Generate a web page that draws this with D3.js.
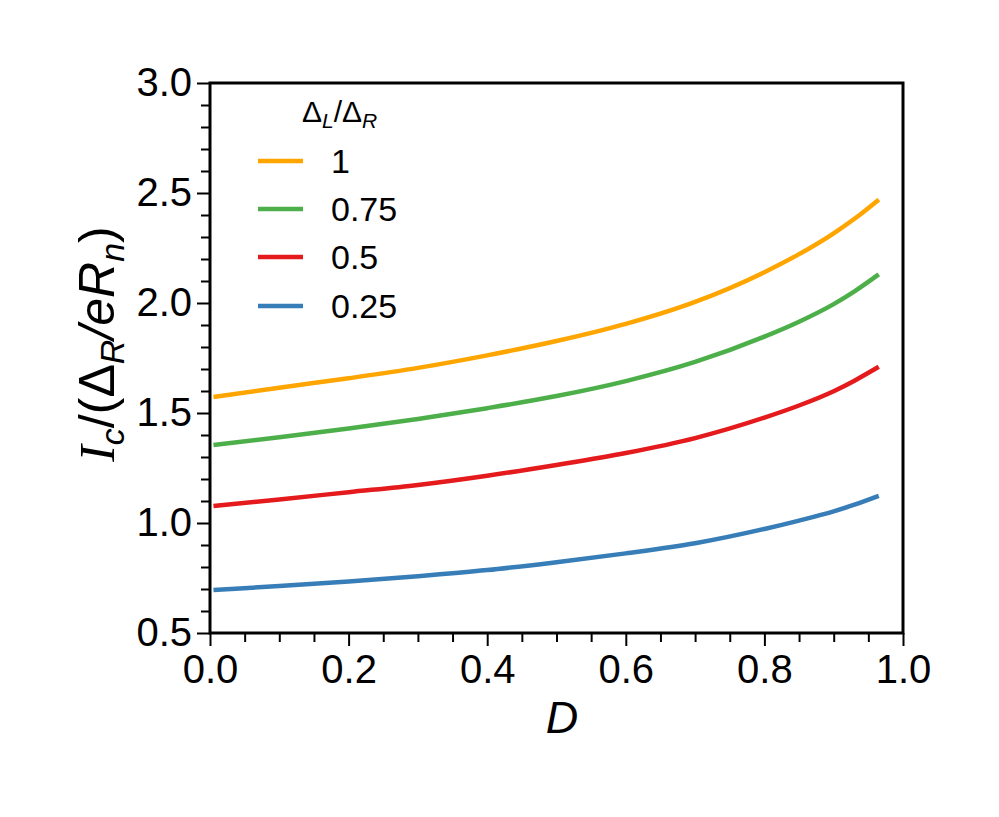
<!DOCTYPE html>
<html>
<head>
<meta charset="utf-8">
<script src="https://cdn.jsdelivr.net/npm/d3@7"></script>
<style>
  html, body { margin: 0; padding: 0; background: #fff; }
  svg text { font-family: "Liberation Sans", Arial, Helvetica, sans-serif; fill: #000; }
</style>
</head>
<body>
<svg id="chart" width="999" height="817"></svg>
<script>
// ---- data ----
const dValues = [0.005, 0.1, 0.2, 0.3, 0.4, 0.5, 0.6, 0.7, 0.8, 0.85, 0.9, 0.93, 0.965];
const ratio1    = [1.573, 1.615, 1.658, 1.705, 1.762, 1.827, 1.905, 2.005, 2.140, 2.222, 2.317, 2.383, 2.470];
const ratio075  = [1.355, 1.390, 1.430, 1.473, 1.522, 1.577, 1.645, 1.732, 1.847, 1.915, 1.995, 2.053, 2.130];
const ratio05   = [1.077, 1.107, 1.140, 1.173, 1.215, 1.264, 1.318, 1.386, 1.479, 1.534, 1.599, 1.647, 1.710];
const ratio025  = [0.695, 0.714, 0.734, 0.758, 0.786, 0.822, 0.862, 0.908, 0.973, 1.011, 1.053, 1.083, 1.123];
const seriesLabels = ["1", "0.75", "0.5", "0.25"];
const seriesColors = ["#ffa500", "#4daf4a", "#e41a1c", "#377eb8"];
const xMajorTicks = [0, 0.2, 0.4, 0.6, 0.8, 1.0];
const yMajorTicks = [0.5, 1.0, 1.5, 2.0, 2.5, 3.0];

const series = [ratio1, ratio075, ratio05, ratio025];

// ---- layout ----
const pL = 210, pR = 903, pT = 83, pB = 633;
const svg = d3.select("#chart");

const x = d3.scaleLinear().domain([0, 1]).range([pL, pR]);
const y = d3.scaleLinear().domain([0.5, 3.0]).range([pB, pT]);

// minor ticks
const xMinor = d3.range(0, 1.0001, 0.05).filter(v => !xMajorTicks.some(t => Math.abs(t - v) < 1e-6));
const yMinor = d3.range(0.5, 3.0001, 0.1).filter(v => !yMajorTicks.some(t => Math.abs(t - v) < 1e-6));

const gxMinor = svg.append("g").attr("transform", `translate(0,${pB})`)
  .call(d3.axisBottom(x).tickValues(xMinor).tickSize(9).tickFormat(""));
const gyMinor = svg.append("g").attr("transform", `translate(${pL},0)`)
  .call(d3.axisLeft(y).tickValues(yMinor).tickSize(9).tickFormat(""));

const gx = svg.append("g").attr("transform", `translate(0,${pB})`)
  .call(d3.axisBottom(x).tickValues(xMajorTicks).tickSize(13).tickPadding(7).tickFormat(d3.format(".1f")));
const gy = svg.append("g").attr("transform", `translate(${pL},0)`)
  .call(d3.axisLeft(y).tickValues(yMajorTicks).tickSize(13).tickPadding(5).tickFormat(d3.format(".1f")));

[gxMinor, gyMinor, gx, gy].forEach(g => {
  g.select(".domain").remove();
  g.selectAll(".tick line").attr("stroke", "#000").attr("stroke-width", 2);
});
[gx, gy].forEach(g => g.selectAll(".tick text")
  .style("font-family", "'Liberation Sans', Arial, sans-serif")
  .style("font-size", "40px").attr("fill", "#000"));
gx.selectAll(".tick text").attr("dy", "0.76em");

// curves
const line = d3.line()
  .x((d, i) => x(dValues[i]))
  .y(d => y(d))
  .curve(d3.curveMonotoneX);

series.forEach((s, k) => {
  svg.append("path")
    .datum(s)
    .attr("d", line)
    .attr("fill", "none")
    .attr("stroke", seriesColors[k])
    .attr("stroke-width", 4.5);
});

// frame
svg.append("rect")
  .attr("x", pL).attr("y", pT)
  .attr("width", pR - pL).attr("height", pB - pT)
  .attr("fill", "none").attr("stroke", "#000").attr("stroke-width", 3);

// legend
const legTitle = svg.append("text").attr("x", 302).attr("y", 122).style("font-size", "30px");
legTitle.append("tspan").text("Δ");
legTitle.append("tspan").attr("font-style", "italic").attr("font-size", "21px").attr("dy", 6).text("L");
legTitle.append("tspan").attr("dy", -6).text("/Δ");
legTitle.append("tspan").attr("font-style", "italic").attr("font-size", "21px").attr("dy", 6).text("R");

const legY = [161, 209, 257, 306];
seriesLabels.forEach((lab, k) => {
  svg.append("line")
    .attr("x1", 258).attr("x2", 303)
    .attr("y1", legY[k]).attr("y2", legY[k])
    .attr("stroke", seriesColors[k]).attr("stroke-width", 4.5);
  svg.append("text")
    .attr("x", 331).attr("y", legY[k] + 12)
    .style("font-size", "34px")
    .text(lab);
});

// axis titles
svg.append("text")
  .attr("x", 562).attr("y", 733)
  .attr("text-anchor", "middle")
  .style("font-size", "45px").style("font-style", "italic")
  .text("D");

const yt = svg.append("text")
  .attr("transform", `translate(114,344) rotate(-90)`)
  .attr("text-anchor", "middle")
  .style("font-size", "50px");
yt.append("tspan").style("font-family", "'Liberation Serif', 'DejaVu Serif', serif").attr("font-style", "italic").text("I");
yt.append("tspan").attr("font-style", "italic").attr("font-size", "34px").attr("dy", 10).text("c");
yt.append("tspan").attr("dy", -10).text("/(Δ");
yt.append("tspan").attr("font-style", "italic").attr("font-size", "34px").attr("dy", 10).text("R");
yt.append("tspan").attr("dy", -10).attr("font-style", "italic").text("/eR");
yt.append("tspan").attr("font-style", "italic").attr("font-size", "34px").attr("dy", 10).text("n");
yt.append("tspan").attr("dy", -10).text(")");
</script>
</body>
</html>
